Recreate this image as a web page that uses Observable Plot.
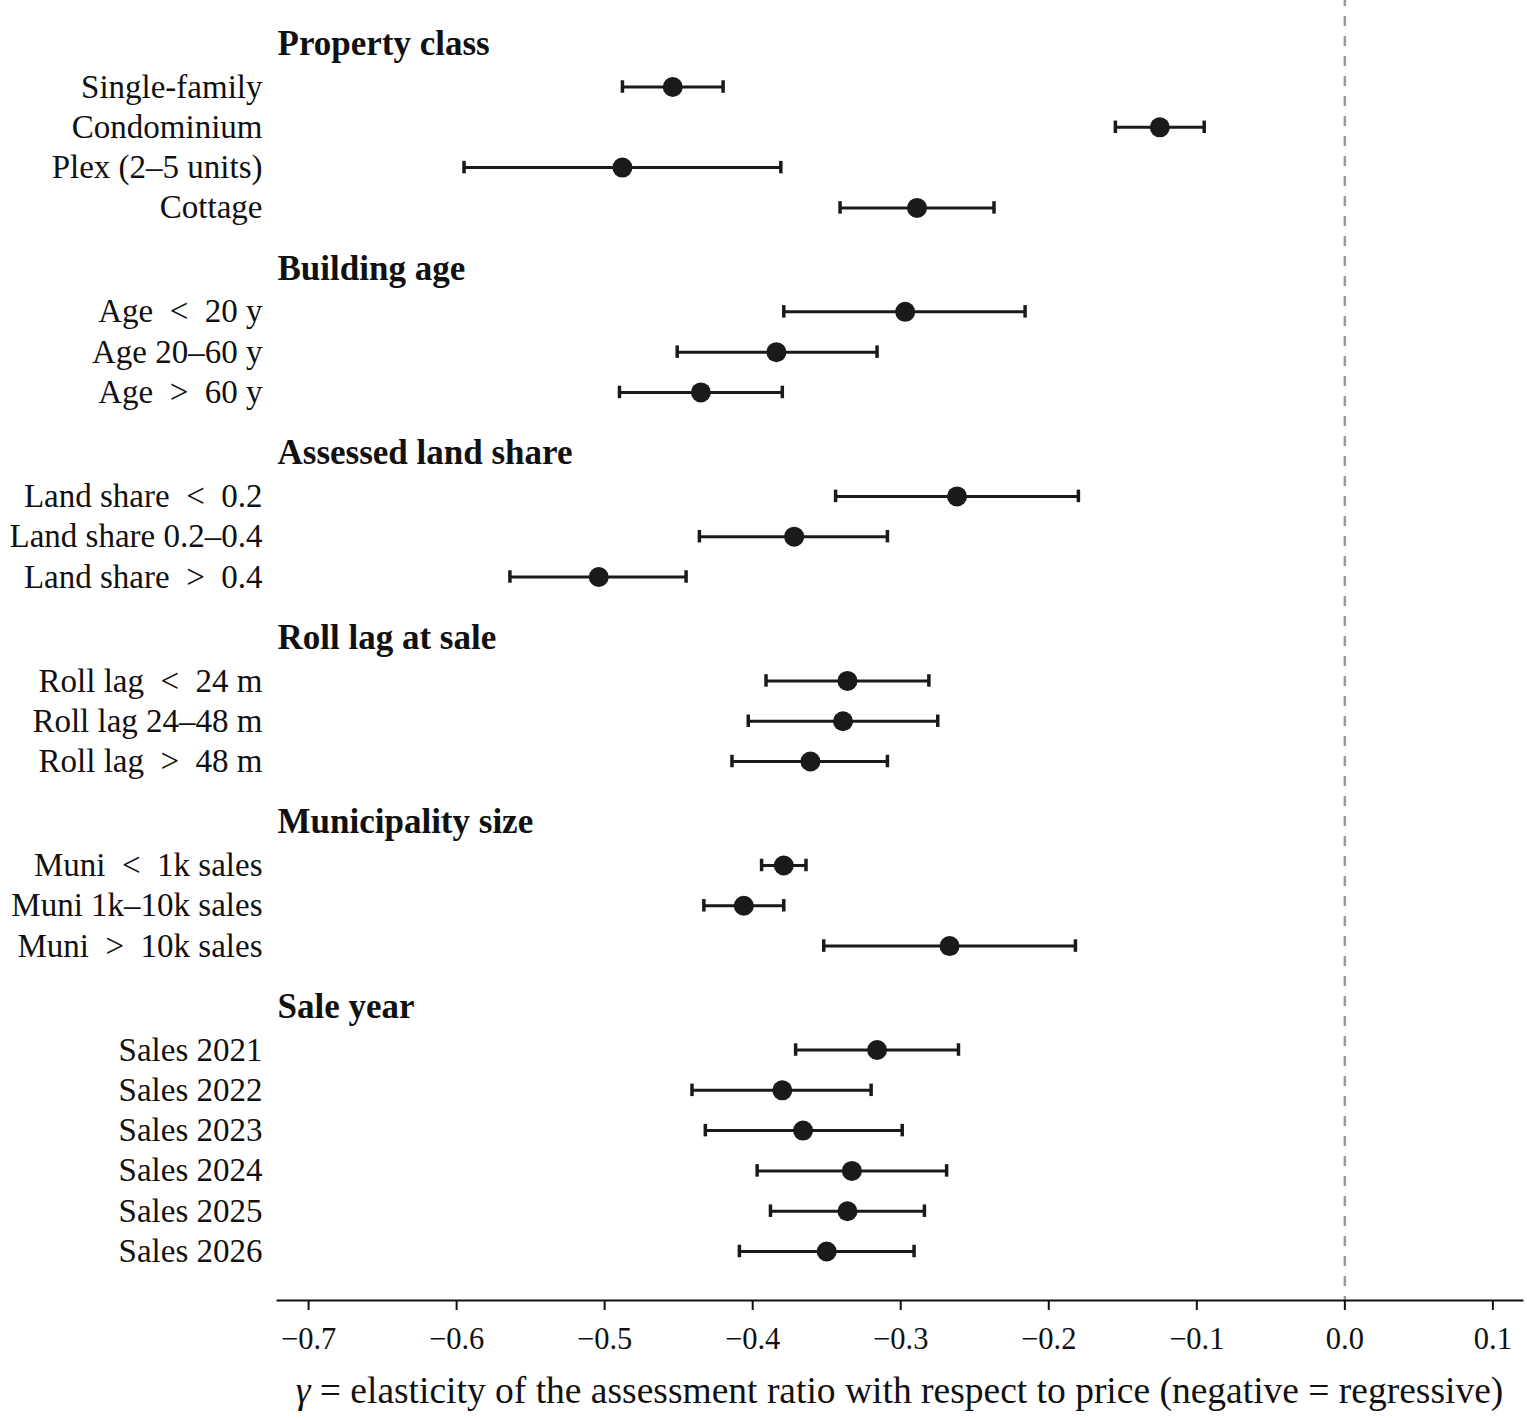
<!DOCTYPE html>
<html>
<head>
<meta charset="utf-8">
<script src="https://cdn.jsdelivr.net/npm/d3@7"></script>
<script src="https://cdn.jsdelivr.net/npm/@observablehq/plot@0.6"></script>
<style>
  html, body { margin: 0; padding: 0; background: #fff; }
  #chart { width: 1527px; height: 1362px; }
  #xlabel { font-family: "Liberation Serif", "Times New Roman", serif; font-size: 37.5px; color: #111; text-align: center; width: 1245px; margin-left: 277px; margin-top: 8px; line-height: 42px; white-space: nowrap; }
</style>
</head>
<body>
<div id="chart"></div>
<script>
const groups = ["Property class", "Building age", "Assessed land share", "Roll lag at sale", "Municipality size", "Sale year"];
const labels = [
  "Single-family", "Condominium", "Plex (2\u20135 units)", "Cottage",
  "Age\u2002<\u200220 y", "Age 20\u201360 y", "Age\u2002>\u200260 y",
  "Land share\u2002<\u20020.2", "Land share 0.2\u20130.4", "Land share\u2002>\u20020.4",
  "Roll lag\u2002<\u200224 m", "Roll lag 24\u201348 m", "Roll lag\u2002>\u200248 m",
  "Muni\u2002<\u20021k sales", "Muni 1k\u201310k sales", "Muni\u2002>\u200210k sales",
  "Sales 2021", "Sales 2022", "Sales 2023", "Sales 2024", "Sales 2025", "Sales 2026"
];
const groupOf = [0,0,0,0, 1,1,1, 2,2,2, 3,3,3, 4,4,4, 5,5,5,5,5,5];
const estimates = [-0.454, -0.125, -0.488, -0.289, -0.297, -0.384, -0.435, -0.262, -0.372, -0.504, -0.336, -0.339, -0.361, -0.379, -0.406, -0.267, -0.316, -0.380, -0.366, -0.333, -0.336, -0.350];
const lower =     [-0.488, -0.155, -0.595, -0.341, -0.379, -0.451, -0.490, -0.344, -0.436, -0.564, -0.391, -0.403, -0.414, -0.394, -0.433, -0.352, -0.371, -0.441, -0.432, -0.397, -0.388, -0.409];
const upper =     [-0.420, -0.095, -0.381, -0.237, -0.216, -0.316, -0.380, -0.180, -0.309, -0.445, -0.281, -0.275, -0.309, -0.364, -0.379, -0.182, -0.261, -0.320, -0.299, -0.269, -0.284, -0.291];
const xTicks = [-0.7, -0.6, -0.5, -0.4, -0.3, -0.2, -0.1, 0.0, 0.1];

// layout: row positions derived from order
const headerRows = [];
const rows = [];
let t = 0;
groups.forEach((g, gi) => {
  headerRows.push({label: g, pos: t});
  t += 1.08;
  let last = t;
  labels.forEach((lab, i) => {
    if (groupOf[i] === gi) {
      rows.push({label: lab, est: estimates[i], lo: lower[i], hi: upper[i], pos: t});
      last = t;
      t += 1;
    }
  });
  t = last + 1.5;
});
const lastPos = rows[rows.length - 1].pos;
const capH = 0.155;

const font = '"Liberation Serif", "Times New Roman", serif';
const ink = "#1a1a1a";

const plot = Plot.plot({
  width: 1527,
  height: 1362,
  marginLeft: 277,
  marginRight: 5,
  marginTop: 0,
  marginBottom: 62,
  style: {fontFamily: font, background: "#fff", color: "#111"},
  x: {domain: [-0.721, 0.120]},
  y: {domain: [0, lastPos], range: [43, 1251], axis: null},
  marks: [
    Plot.ruleX([0], {stroke: "#999", strokeWidth: 2.5, strokeDasharray: "10,10", strokeDashoffset: 4}),
    Plot.frame({anchor: "bottom", stroke: "#111", strokeWidth: 2}),
    Plot.axisX({ticks: xTicks, tickFormat: d3.format(".1f"), tickSize: 10, tickPadding: 17, fontSize: 30.5, stroke: "#111", strokeWidth: 2, label: null, fill: "#111"}),
    Plot.ruleY(rows, {y: "pos", x1: "lo", x2: "hi", stroke: ink, strokeWidth: 3}),
    Plot.ruleX(rows, {x: "lo", y1: d => d.pos - capH, y2: d => d.pos + capH, stroke: ink, strokeWidth: 3.5}),
    Plot.ruleX(rows, {x: "hi", y1: d => d.pos - capH, y2: d => d.pos + capH, stroke: ink, strokeWidth: 3.5}),
    Plot.dot(rows, {x: "est", y: "pos", r: 10, fill: ink, stroke: "none"}),
    Plot.text(rows, {y: "pos", text: "label", frameAnchor: "left", dx: -15, textAnchor: "end", fontSize: 33, fill: "#111"}),
    Plot.text(headerRows, {y: "pos", text: "label", frameAnchor: "left", dx: 0, textAnchor: "start", fontSize: 35, fontWeight: "bold", fill: "#111"})
  ]
});
document.getElementById("chart").appendChild(plot);
const lab = document.createElement("div");
lab.id = "xlabel";
lab.innerHTML = "<i>\u03b3</i> = elasticity of the assessment ratio with respect to price (negative = regressive)";
document.body.appendChild(lab);
</script>
</body>
</html>
